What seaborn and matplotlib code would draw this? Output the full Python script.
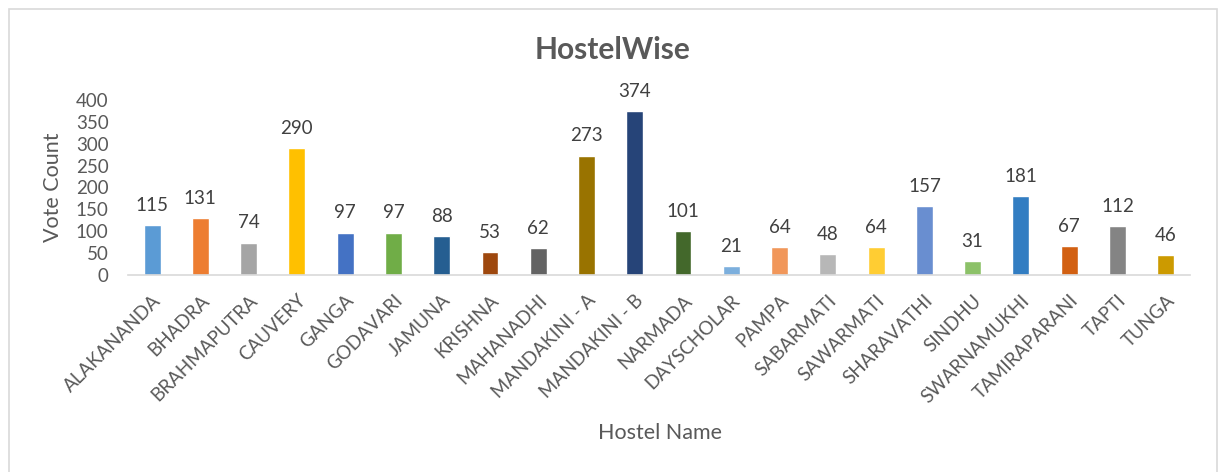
import matplotlib
matplotlib.use("Agg")
import matplotlib.pyplot as plt
import seaborn as sns
from matplotlib.patches import Rectangle

# ===== Data =====
hostels = ['ALAKANANDA', 'BHADRA', 'BRAHMAPUTRA', 'CAUVERY', 'GANGA', 'GODAVARI',
           'JAMUNA', 'KRISHNA', 'MAHANADHI', 'MANDAKINI - A', 'MANDAKINI - B',
           'NARMADA', 'DAYSCHOLAR', 'PAMPA', 'SABARMATI', 'SAWARMATI', 'SHARAVATHI',
           'SINDHU', 'SWARNAMUKHI', 'TAMIRAPARANI', 'TAPTI', 'TUNGA']
votes = [115, 131, 74, 290, 97, 97, 88, 53, 62, 273, 374,
         101, 21, 64, 48, 64, 157, 31, 181, 67, 112, 46]
colors = ['#5B9BD5', '#ED7D31', '#A5A5A5', '#FFC000', '#4472C4', '#70AD47',
          '#255E91', '#9E480E', '#636363', '#997300', '#264478', '#43682B',
          '#7CAFDD', '#F1975A', '#B7B7B7', '#FFCD33', '#698ED0', '#8CC168',
          '#327DC2', '#D26012', '#848484', '#CC9A00']
y_ticks = [0, 50, 100, 150, 200, 250, 300, 350, 400]

# ===== Style =====
sns.set_style("white")
plt.rcParams['font.family'] = ['Lato', 'DejaVu Sans']

fig = plt.figure(figsize=(12.22, 4.72), dpi=100)
ax = fig.add_axes([0.1047, 0.4174, 0.869, 0.3708])

sns.barplot(x=hostels, y=votes, hue=hostels, palette=colors, legend=False,
            width=0.35, saturation=1, ax=ax)

for c in ax.containers:
    ax.bar_label(c, padding=8, fontsize=13.5, color='#404040')

ax.set_ylim(0, 400)
ax.set_xlim(-0.5, len(hostels) - 0.5)
ax.set_yticks(y_ticks)
ax.tick_params(axis='y', length=0, labelsize=13.5, labelcolor='#595959', pad=14)
ax.tick_params(axis='x', length=0, labelsize=13.5, labelcolor='#595959', pad=12)
plt.setp(ax.get_xticklabels(), rotation=45, ha='right', rotation_mode='anchor')

for s in ['top', 'right', 'left']:
    ax.spines[s].set_visible(False)
ax.spines['bottom'].set_color('#D9D9D9')
ax.spines['bottom'].set_linewidth(1.2)

ax.set_xlabel("Hostel Name", fontsize=15.5, color='#595959')
ax.set_ylabel("Vote Count", fontsize=15.5, color='#595959')
ax.xaxis.label.set_va('center')
ax.yaxis.label.set_va('center')
ax.xaxis.set_label_coords(0.501, -0.903)
ax.yaxis.set_label_coords(-0.0706, 0.5)

fig.text(0.501, 0.894, "HostelWise", fontsize=21.5, fontweight='bold',
         color='#595959', ha='center', va='center')

# chart border
fig.patches.append(Rectangle((9 / 1222, -0.01), 1208 / 1222, 1.01 - 9 / 472,
                             transform=fig.transFigure, fill=False,
                             edgecolor='#D9D9D9', linewidth=1.2))

plt.savefig("out.png", dpi=100, facecolor='white')
